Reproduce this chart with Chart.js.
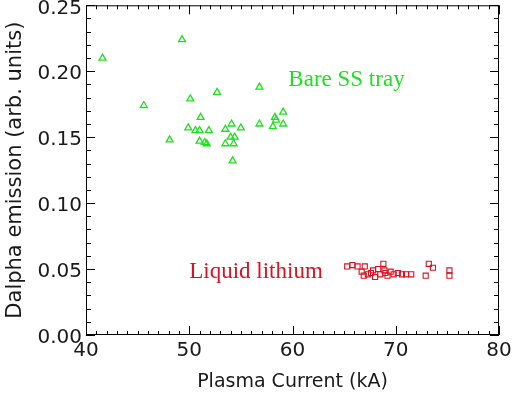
<!DOCTYPE html>
<html>
<head>
<meta charset="utf-8">
<script src="https://cdn.jsdelivr.net/npm/chart.js@4"></script>
<style>
    html, body { margin: 0; padding: 0; background: #fff; }
</style>
</head>
<body>
<canvas id="myChart" width="512" height="395"></canvas>
<script>
// Bare SS tray (green triangles)
const ssCurrent = [41.6, 45.6, 48.1, 49.3, 49.9, 50.1, 50.6, 51.0, 51.0, 51.1, 51.5, 51.7, 51.9, 52.7, 53.5,
    53.5, 54.0, 54.1, 54.2, 54.3, 54.4, 55.0, 56.8, 56.8, 58.1, 58.3, 58.4, 59.1, 59.1];
const ssDalpha = [0.210, 0.174, 0.148, 0.224, 0.157, 0.179, 0.155, 0.155, 0.147, 0.165, 0.146, 0.145, 0.155, 0.184, 0.156,
    0.145, 0.150, 0.160, 0.132, 0.145, 0.150, 0.157, 0.188, 0.160, 0.158, 0.165, 0.163, 0.169, 0.160];

// Liquid lithium (red squares)
const liCurrent = [65.3, 65.8, 66.3, 67.0, 66.7, 66.9, 67.3, 67.6, 68.0, 68.3, 68.5, 68.8, 69.0, 69.2, 69.5,
    69.8, 70.2, 70.6, 71.0, 71.5, 72.9, 73.2, 73.6, 75.2, 75.2, 67.8, 68.9];
const liDalpha = [0.052, 0.053, 0.052, 0.052, 0.048, 0.045, 0.046, 0.047, 0.044, 0.050, 0.046, 0.054, 0.047, 0.045, 0.048,
    0.046, 0.047, 0.046, 0.046, 0.046, 0.045, 0.054, 0.051, 0.049, 0.045, 0.049, 0.049];

const xTicks = [40, 50, 60, 70, 80];
const yTicks = [0.00, 0.05, 0.10, 0.15, 0.20, 0.25];

const green = '#1ee01e';
const red = '#dd1020';

const ssPoints = ssCurrent.map((c, i) => ({ x: c, y: ssDalpha[i] }));
const liPoints = liCurrent.map((c, i) => ({ x: c, y: liDalpha[i] }));

// box, IDL style tick marks and the two text labels
const frame = {
    id: 'frame',
    afterDatasetsDraw(chart) {
        const { ctx, chartArea: a, scales: { x, y } } = chart;
        ctx.save();
        ctx.strokeStyle = '#000';
        ctx.lineWidth = 1;
        ctx.strokeRect(a.left + 0.5, a.top + 0.5, a.right - a.left - 1, a.bottom - a.top - 1);
        ctx.beginPath();
        for (let v = xTicks[0]; v <= xTicks[xTicks.length - 1]; v++) {
            const px = Math.round(x.getPixelForValue(v)) + 0.5;
            const len = xTicks.includes(v) ? 9 : 4;
            ctx.moveTo(px, a.bottom); ctx.lineTo(px, a.bottom - len);
            ctx.moveTo(px, a.top); ctx.lineTo(px, a.top + len);
        }
        for (let i = 0; i <= 25; i++) {
            const py = Math.round(y.getPixelForValue(i / 100)) + 0.5;
            const len = i % 5 === 0 ? 9 : 5;
            ctx.moveTo(a.left, py); ctx.lineTo(a.left + len, py);
            ctx.moveTo(a.right, py); ctx.lineTo(a.right - len, py);
        }
        ctx.stroke();

        ctx.textBaseline = 'alphabetic';
        ctx.textAlign = 'left';
        ctx.font = '23px "Liberation Serif"';
        ctx.fillStyle = green;
        ctx.fillText('Bare SS tray', x.getPixelForValue(59.6), y.getPixelForValue(0.189));
        ctx.fillStyle = red;
        ctx.fillText('Liquid lithium', x.getPixelForValue(50.0), y.getPixelForValue(0.0435));
        ctx.restore();
    }
};

const ctx = document.getElementById('myChart').getContext('2d');
const myChart = new Chart(ctx, {
    type: 'scatter',
    data: {
        datasets: [{
                label: 'Bare SS tray',
                data: ssPoints,
                pointStyle: 'triangle',
                radius: 4,
                borderColor: green,
                backgroundColor: 'rgba(0,0,0,0)',
                borderWidth: 1.3
            },
            {
                label: 'Liquid lithium',
                data: liPoints,
                pointStyle: 'rect',
                radius: 3.6,
                borderColor: red,
                backgroundColor: 'rgba(0,0,0,0)',
                borderWidth: 1.1
            }
        ]
    },
    options: {
        responsive: false,
        animation: false,
        devicePixelRatio: 1,
        layout: { padding: { top: 2, right: 13, left: 0, bottom: 0 } },
        plugins: {
            legend: { display: false },
            tooltip: { enabled: false }
        },
        scales: {
            x: {
                type: 'linear',
                min: 40,
                max: 80,
                afterFit: (s) => { s.height = 60; s.paddingLeft = 0; s.paddingRight = 0; },
                afterBuildTicks: (s) => { s.ticks = xTicks.map(v => ({ value: v })); },
                grid: { display: false, drawTicks: false },
                border: { display: false },
                ticks: { padding: 4, color: '#1a1a1a', font: { family: 'DejaVu Sans', size: 20 } },
                title: {
                    display: true,
                    text: 'Plasma Current (kA)',
                    color: '#1a1a1a',
                    padding: { top: 0, bottom: 2 },
                    font: { family: 'DejaVu Sans', size: 19 }
                }
            },
            y: {
                type: 'linear',
                min: 0,
                max: 0.25,
                afterFit: (s) => { s.width = 86; s.paddingTop = 0; s.paddingBottom = 0; },
                afterBuildTicks: (s) => { s.ticks = yTicks.map(v => ({ value: v })); },
                grid: { display: false, drawTicks: false },
                border: { display: false },
                ticks: {
                    padding: 4,
                    labelOffset: 3,
                    color: '#1a1a1a',
                    font: { family: 'DejaVu Sans', size: 20 },
                    callback: (v) => Number(v).toFixed(2)
                },
                title: {
                    display: true,
                    text: 'Dalpha emission (arb. units)',
                    color: '#1a1a1a',
                    padding: { top: 3, bottom: 0 },
                    font: { family: 'DejaVu Sans', size: 21 }
                }
            }
        }
    },
    plugins: [frame]
});
</script>
</body>
</html>
